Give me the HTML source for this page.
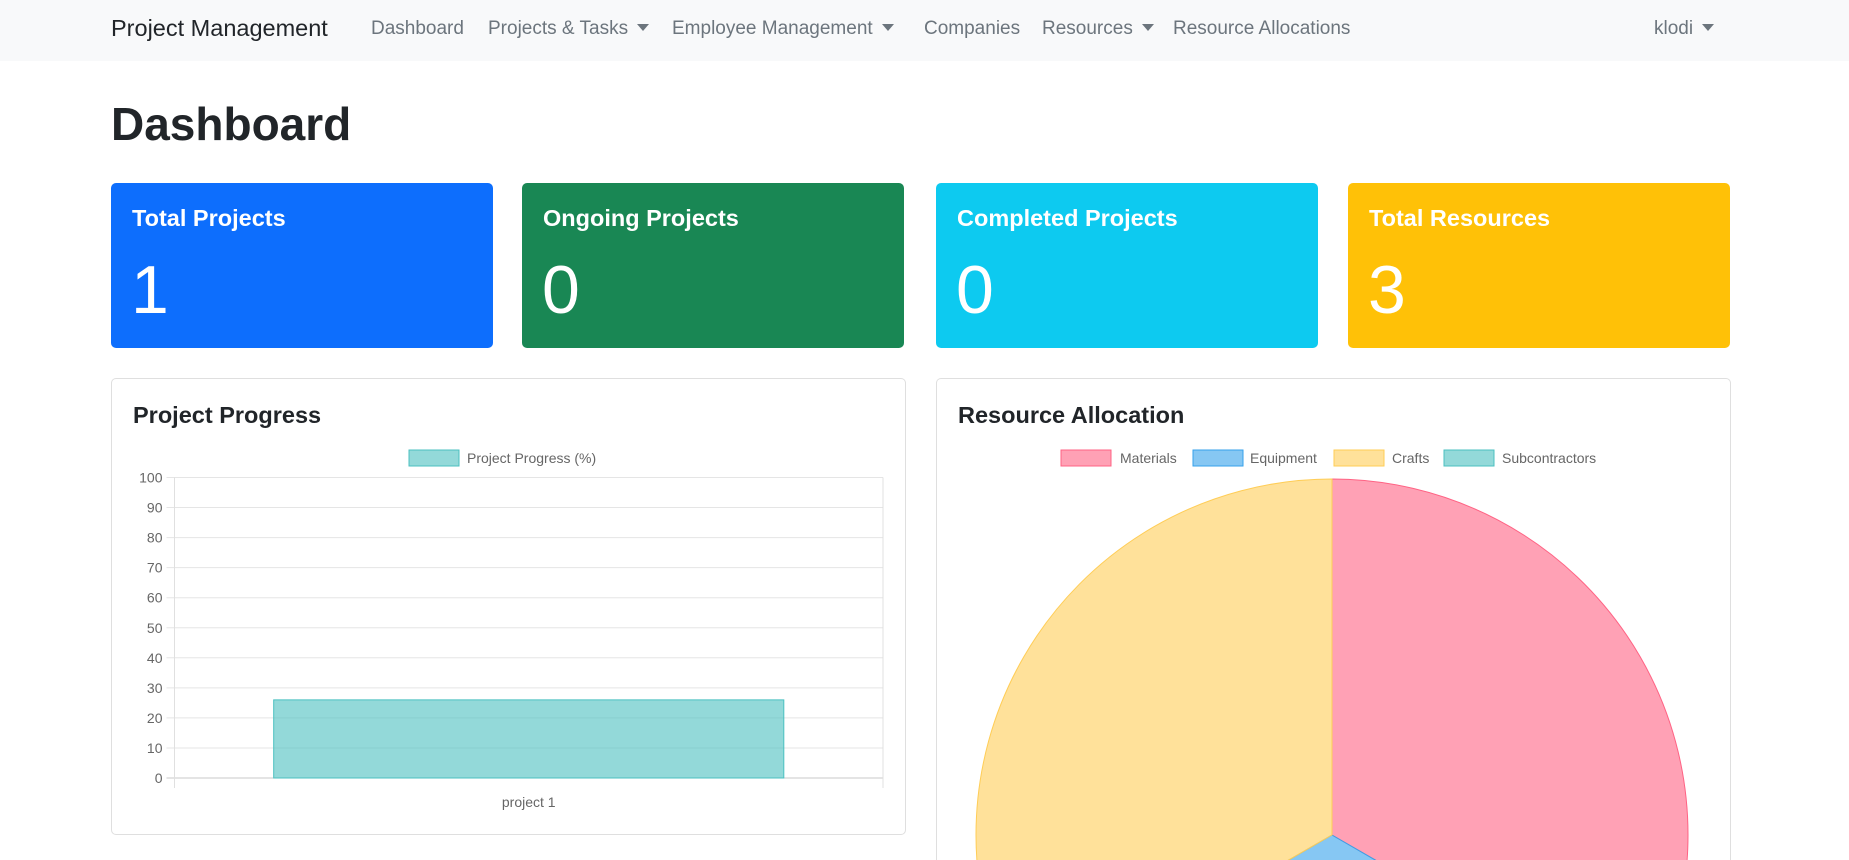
<!DOCTYPE html>
<html><head><meta charset="utf-8">
<style>
*{box-sizing:border-box;margin:0;padding:0}
html,body{width:1849px;height:860px;overflow:hidden}
body{background:#fff;font-family:"Liberation Sans",sans-serif;position:relative;color:#212529}
.nav{position:absolute;left:0;top:0;width:1849px;height:61px;background:#f8f9fa}
.nav span{position:absolute;top:18px;font-size:19px;color:#6c757d;white-space:nowrap}
.nav .brand{font-size:23.5px;color:#212529;top:15px;left:111px}
.caret{display:inline-block;width:0;height:0;border-left:6px solid transparent;border-right:6px solid transparent;border-top:7px solid #6c757d;margin-left:9px;vertical-align:3px}
h1{position:absolute;left:111px;top:94px;font-size:46px;font-weight:600;line-height:60px}
.stat{position:absolute;top:183px;width:382px;height:165px;border-radius:5px;color:#fff}
.stat .t{position:absolute;left:21px;top:22px;font-size:23.5px;font-weight:bold}
.stat .n{position:absolute;left:20px;top:67px;font-size:68px;font-weight:300;line-height:80px}
.card{position:absolute;top:378px;width:795px;border:1px solid #dfdfdf;border-radius:5px;background:#fff}
.card .ct{position:absolute;left:21px;top:23px;font-size:23.5px;font-weight:bold;color:#212529}
</style></head><body>
<div class="nav">
<span class="brand">Project Management</span>
<span style="left:371px">Dashboard</span>
<span style="left:488px">Projects &amp; Tasks<i class="caret"></i></span>
<span style="left:672px">Employee Management<i class="caret"></i></span>
<span style="left:924px">Companies</span>
<span style="left:1042px">Resources<i class="caret"></i></span>
<span style="left:1173px">Resource Allocations</span>
<span style="left:1654px">klodi<i class="caret"></i></span>
</div>
<h1>Dashboard</h1>
<div class="stat" style="left:111px;background:#0d6efd"><div class="t">Total Projects</div><div class="n">1</div></div>
<div class="stat" style="left:522px;background:#198754"><div class="t">Ongoing Projects</div><div class="n">0</div></div>
<div class="stat" style="left:936px;background:#0dcaf0"><div class="t">Completed Projects</div><div class="n">0</div></div>
<div class="stat" style="left:1348px;background:#ffc107"><div class="t">Total Resources</div><div class="n">3</div></div>

<div class="card" style="left:111px;height:457px"><div class="ct">Project Progress</div></div>
<div class="card" style="left:936px;height:482px;border-bottom:none;border-radius:5px 5px 0 0"><div class="ct">Resource Allocation</div></div>

<svg id="chart" width="1849" height="860" style="position:absolute;left:0;top:0;overflow:hidden" font-family="Liberation Sans, sans-serif"></svg>
<script>
const barCategories=["project 1"];
const barValues=[26];
const yTicks=[0,10,20,30,40,50,60,70,80,90,100];
const pieLabels=["Materials","Equipment","Crafts","Subcontractors"];
const pieValues=[1,1,1,0];
const pieFill=["rgba(255,99,132,0.6)","rgba(54,162,235,0.6)","rgba(255,205,86,0.6)","rgba(75,192,192,0.6)"];
const pieStroke=["rgb(255,99,132)","rgb(54,162,235)","rgb(255,205,86)","rgb(75,192,192)"];

const svg=document.getElementById('chart');
const NS='http://www.w3.org/2000/svg';
function mk(t,a,p){const e=document.createElementNS(NS,t);for(const k in a)e.setAttribute(k,a[k]);(p||svg).appendChild(e);return e;}
const X0=174.5,X1=883,Y0=778,Y1=477.5,YMAX=100;
const y=v=>Y0-(v/YMAX)*(Y0-Y1);
const bw=(X1-X0)/barCategories.length;
const xc=i=>X0+bw*(i+0.5);
yTicks.forEach(t=>{
  const g=mk('line',{x1:X0-8,x2:X1,y1:y(t),y2:y(t),stroke:t===0?'#c8c8c8':'#e5e5e5','stroke-width':1});
  
  
  const l=mk('text',{x:X0-12,y:y(t)+5,'text-anchor':'end','font-size':14,fill:'#666'});
  l.textContent=t;
  
  
});
[X0,X1].forEach(x=>{const v=mk('line',{x1:x,x2:x,y1:Y1,y2:Y0+10,stroke:'#e0e0e0'});
  
  });
barCategories.forEach((c,i)=>{
  const w=bw*0.72;
  const r=mk('rect',{x:xc(i)-w/2,y:y(barValues[i]),width:w,height:Y0-y(barValues[i]),fill:'rgba(75,192,192,0.6)',stroke:'rgb(75,192,192)','stroke-width':1});
  
  
  const t=mk('text',{x:xc(i),y:807,'text-anchor':'middle','font-size':14,fill:'#666'});
  t.textContent=c;
  
  
});
const lb=mk('rect',{x:409,y:450,width:50,height:16,fill:'rgba(75,192,192,0.6)',stroke:'rgb(75,192,192)'});


const lt=mk('text',{x:467,y:463,'font-size':14,fill:'#666'});
lt.textContent='Project Progress (%)';


const CX=1332,CY=835,R=356;
const tot=pieValues.reduce((a,b)=>a+b,0);
let ang=-Math.PI/2;
pieValues.forEach((v,i)=>{
  if(v<=0)return;
  const a2=ang+v/tot*2*Math.PI;
  const large=(a2-ang)>Math.PI?1:0;
  const d=`M${CX},${CY} L${CX+R*Math.cos(ang)},${CY+R*Math.sin(ang)} A${R},${R} 0 ${large} 1 ${CX+R*Math.cos(a2)},${CY+R*Math.sin(a2)} Z`;
  const p=mk('path',{d:d,fill:pieFill[i],stroke:pieStroke[i],'stroke-width':1});
  
  
  ang=a2;
});
const legX=[1061,1193,1334,1444];
const legT=[1120,1250,1392,1502];
pieLabels.forEach((l,i)=>{
  const r=mk('rect',{x:legX[i],y:450,width:50,height:16,fill:pieFill[i],stroke:pieStroke[i]});
  
  
  const t=mk('text',{x:legT[i],y:463,'font-size':14,fill:'#666'});
  t.textContent=l;
  
  
});
</script>
</body></html>
